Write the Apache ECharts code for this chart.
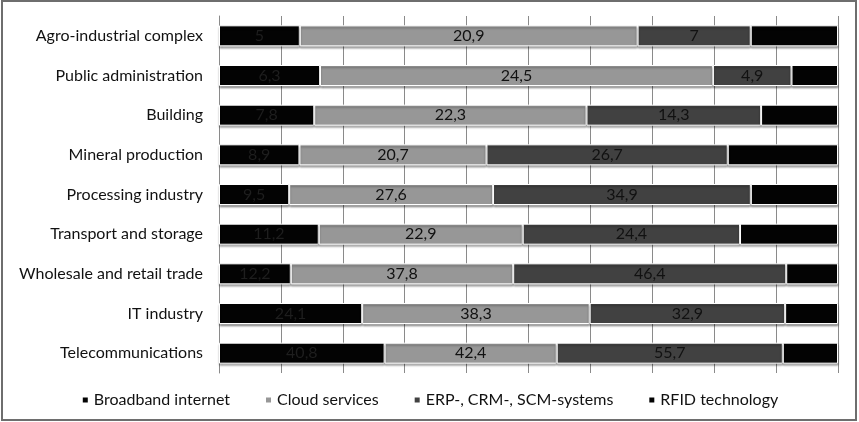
<!DOCTYPE html>
<html>
<head>
<meta charset="utf-8">
<script src="https://cdn.jsdelivr.net/npm/echarts@6/dist/echarts.min.js"></script>
<style>
html,body{margin:0;padding:0;background:#fff;}
#frame{position:absolute;left:1px;top:0;width:856px;height:421px;box-sizing:border-box;border:2px solid #6e6e6e;}
#chart{position:absolute;left:0;top:0;width:859px;height:422px;}
</style>
</head>
<body>
<div id="frame"></div>
<div id="chart"></div>
<script>
const categories = ["Agro-industrial complex","Public administration","Building","Mineral production","Processing industry","Transport and storage","Wholesale and retail trade","IT industry","Telecommunications"];
const seriesNames = ["Broadband internet","Cloud services","ERP-, CRM-, SCM-systems","RFID technology"];
const broadband = [5, 6.3, 7.8, 8.9, 9.5, 11.2, 12.2, 24.1, 40.8];
const cloud = [20.9, 24.5, 22.3, 20.7, 27.6, 22.9, 37.8, 38.3, 42.4];
const erp = [7, 4.9, 14.3, 26.7, 34.9, 24.4, 46.4, 32.9, 55.7];
const rfid = [5.4, 2.9, 6.3, 12.2, 11.8, 11.0, 8.8, 8.9, 13.6];

const raw = [broadband, cloud, erp, rfid];
const totals = categories.map((c, i) => raw.reduce((s, arr) => s + arr[i], 0));
const colors = ["#030303", "#979797", "#414141", "#030303"];
const labelColors = ["#1e1e1e", "#111111", "#111111", "#030303"];
const FONT = 'Lato';

const series = raw.map((arr, k) => ({
  name: seriesNames[k],
  type: 'bar',
  stack: 'total',
  barWidth: 21,
  data: arr.map((v, i) => ({ value: v / totals[i] * 100, raw: v })),
  itemStyle: {
    color: colors[k],
    borderColor: '#ffffff',
    borderWidth: 1,
    shadowColor: 'rgba(0,0,0,0.35)',
    shadowOffsetY: 2,
    shadowBlur: 2
  },
  label: {
    show: k < 3,
    position: 'inside',
    color: labelColors[k],
    fontFamily: FONT,
    fontSize: 16,
    formatter: p => String(p.data.raw).replace('.', ',')
  }
}));

const chart = echarts.init(document.getElementById('chart'));
chart.setOption({
  animation: false,
  grid: { left: 219, right: 21, top: 16, bottom: 49 },
  legend: {
    bottom: 9,
    left: 'center',
    itemWidth: 7,
    itemHeight: 7,
    itemGap: 34,
    icon: 'rect',
    textStyle: { fontFamily: FONT, fontSize: 16, color: '#111111' },
    data: seriesNames
  },
  xAxis: {
    type: 'value',
    min: 0,
    max: 100,
    interval: 10,
    axisLabel: { show: false },
    axisLine: { show: false },
    axisTick: { show: false },
    splitLine: { show: true, lineStyle: { color: '#8a8a8a', width: 1 } }
  },
  yAxis: {
    type: 'category',
    inverse: true,
    data: categories,
    axisLine: { show: true, lineStyle: { color: '#8a8a8a' } },
    axisTick: { show: false },
    axisLabel: { margin: 16, fontFamily: FONT, fontSize: 16, color: '#111111' }
  },
  series: series
});
</script>
</body>
</html>
